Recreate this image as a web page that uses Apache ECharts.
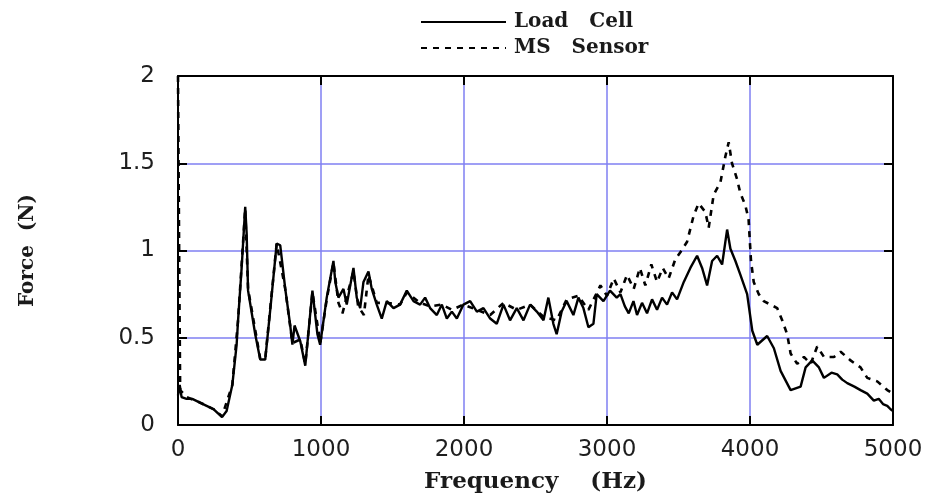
<!DOCTYPE html>
<html>
<head>
<meta charset="utf-8">
<script src="https://cdn.jsdelivr.net/npm/echarts@6/dist/echarts.min.js"></script>
<style>
  html, body { margin: 0; padding: 0; background: #fff; }
  #chart { width: 941px; height: 499px; }
</style>
</head>
<body>
<div id="chart"></div>
<script>
// Load Cell (solid) - frequency (Hz) and force (N)
const lcFreq = [0, 12, 25, 60, 100, 150, 200, 250, 308, 340, 380, 410, 420, 445, 470, 480, 490, 540, 575, 610, 650, 690, 715, 750, 785, 800, 815, 855, 890, 940, 975, 994,
  1040, 1087, 1100, 1122, 1157, 1180, 1227, 1250, 1274, 1297, 1332, 1355, 1390, 1425, 1460, 1507, 1553, 1600, 1647, 1693, 1728, 1763, 1810, 1845, 1880, 1915, 1950, 1996,
  2043, 2090, 2136, 2183, 2229, 2276, 2322, 2369, 2416, 2462, 2509, 2556, 2590, 2625, 2648, 2683, 2718, 2765, 2800, 2835, 2870, 2905, 2928, 2975, 3021,
  3068, 3094, 3125, 3152, 3185, 3210, 3245, 3280, 3315, 3350, 3385, 3420, 3455, 3490, 3537, 3583, 3630, 3665, 3700, 3735, 3770, 3805, 3840, 3863, 3898, 3933, 3980, 4016, 4051,
  4120, 4167, 4214, 4284, 4354, 4389, 4435, 4482, 4517, 4570, 4610, 4645, 4680, 4730, 4773, 4820, 4866, 4900, 4930, 4960, 4983, 5000];
const lcForce = [0.17, 0.23, 0.16, 0.15, 0.15, 0.13, 0.11, 0.09, 0.045, 0.08, 0.23, 0.46, 0.6, 0.9, 1.25, 1.1, 0.77, 0.52, 0.375, 0.375, 0.7, 1.04, 1.03, 0.78, 0.57, 0.46, 0.57, 0.48, 0.34, 0.77, 0.52, 0.46,
  0.73, 0.94, 0.82, 0.73, 0.78, 0.69, 0.9, 0.73, 0.67, 0.82, 0.88, 0.78, 0.69, 0.61, 0.71, 0.67, 0.69, 0.77, 0.71, 0.69, 0.73, 0.67, 0.63, 0.69, 0.61, 0.65, 0.61, 0.69,
  0.71, 0.65, 0.67, 0.61, 0.58, 0.69, 0.6, 0.67, 0.6, 0.69, 0.65, 0.6, 0.73, 0.58, 0.52, 0.65, 0.71, 0.63, 0.73, 0.67, 0.56, 0.58, 0.75, 0.71, 0.77,
  0.73, 0.75, 0.68, 0.64, 0.71, 0.63, 0.7, 0.64, 0.72, 0.66, 0.73, 0.69, 0.76, 0.72, 0.82, 0.9, 0.97, 0.9, 0.8, 0.94, 0.97, 0.92, 1.12, 1.01, 0.94, 0.86, 0.75, 0.54, 0.46,
  0.51, 0.44, 0.31, 0.2, 0.22, 0.33, 0.37, 0.33, 0.27, 0.3, 0.29, 0.26, 0.24, 0.22, 0.2, 0.18, 0.14, 0.15, 0.12, 0.11, 0.09, 0.08];

// MS Sensor (dashed)
const msFreq = [0, 8, 15, 60, 150, 250, 308, 380, 420, 470, 490, 575, 610, 690, 750, 800, 855, 890, 940, 995,
  1040, 1087, 1122, 1150, 1227, 1260, 1300, 1332, 1390, 1460, 1553, 1600, 1693, 1763, 1845, 1915, 1996, 2090, 2183, 2276, 2369, 2462, 2556, 2648, 2718, 2800, 2870, 2954,
  3000, 3047, 3094, 3140, 3187, 3230, 3268, 3310, 3350, 3390, 3431, 3478, 3513, 3560, 3606, 3641, 3688, 3711, 3746, 3793, 3828, 3851, 3874, 3909, 3932, 3967, 3990, 4007, 4026, 4061, 4096,
  4190, 4225, 4260, 4284, 4330, 4377, 4424, 4470, 4517, 4587, 4634, 4703, 4773, 4820, 4890, 4960, 5000];
const msForce = [2.0, 1.0, 0.2, 0.16, 0.13, 0.09, 0.05, 0.23, 0.6, 1.24, 0.78, 0.38, 0.38, 1.04, 0.78, 0.47, 0.49, 0.35, 0.76, 0.47,
  0.72, 0.93, 0.7, 0.64, 0.88, 0.68, 0.63, 0.86, 0.7, 0.7, 0.69, 0.76, 0.7, 0.68, 0.69, 0.66, 0.69, 0.66, 0.63, 0.7, 0.66, 0.69, 0.62, 0.6, 0.72, 0.74, 0.66, 0.8,
  0.74, 0.84, 0.76, 0.86, 0.78, 0.9, 0.8, 0.92, 0.82, 0.9, 0.84, 0.95, 0.99, 1.05, 1.2, 1.27, 1.22, 1.13, 1.32, 1.39, 1.54, 1.62, 1.5, 1.41, 1.33, 1.26, 1.18, 0.94, 0.82, 0.75, 0.71,
  0.67, 0.6, 0.52, 0.41, 0.35, 0.39, 0.35, 0.45, 0.39, 0.39, 0.42, 0.37, 0.33, 0.27, 0.25, 0.2, 0.18];

const xTicks = [0, 1000, 2000, 3000, 4000, 5000];
const yTicks = [0, 0.5, 1, 1.5, 2];

const serifBold = { fontFamily: 'DejaVu Serif', fontWeight: 'bold', fontSize: 21, color: '#1a1a1a' };
const tickFont = { fontFamily: 'DejaVu Sans', fontSize: 23, color: '#1e1e1e' };
const gridBlue = '#7f7ff2';

const chart = echarts.init(document.getElementById('chart'));

const zip = (xs, ys) => xs.map((x, i) => [x, ys[i]]);

const baseX = {
  type: 'value',
  min: xTicks[0],
  max: xTicks[xTicks.length - 1],
  interval: 1000,
  axisLine: { show: true, onZero: false, lineStyle: { color: '#000', width: 2 } },
  axisTick: { show: true, inside: true, length: 9, lineStyle: { color: '#000', width: 2 } }
};
const baseY = {
  type: 'value',
  min: yTicks[0],
  max: yTicks[yTicks.length - 1],
  interval: 0.5,
  axisLine: { show: true, onZero: false, lineStyle: { color: '#000', width: 2 } },
  axisTick: { show: true, inside: true, length: 9, lineStyle: { color: '#000', width: 2 } }
};

chart.setOption({
  animation: false,
  backgroundColor: '#fff',
  legend: {
    orient: 'vertical',
    left: 420,
    top: 12,
    padding: 0,
    itemWidth: 85,
    itemHeight: 14,
    itemGap: 6,
    itemStyle: { color: 'rgba(0,0,0,0)', borderWidth: 0, opacity: 0 },
    textStyle: Object.assign({}, serifBold, { fontSize: 20, lineHeight: 18, padding: [0, 0, 0, 3] }),
    data: ['Load   Cell', 'MS   Sensor']
  },
  grid: { left: 178, right: 48, top: 76, bottom: 71 },
  xAxis: [
    Object.assign({}, baseX, {
      position: 'bottom',
      name: 'Frequency    (Hz)',
      nameLocation: 'middle',
      nameGap: 46,
      nameTextStyle: Object.assign({}, serifBold, { fontSize: 23 }),
      axisLabel: Object.assign({ margin: 14, formatter: v => String(v) }, tickFont),
      splitLine: { show: true, lineStyle: { color: gridBlue, width: 1.5 } }
    }),
    Object.assign({}, baseX, {
      position: 'top',
      axisLabel: { show: false },
      splitLine: { show: false }
    })
  ],
  yAxis: [
    Object.assign({}, baseY, {
      position: 'left',
      name: 'Force  (N)',
      nameLocation: 'middle',
      nameGap: 140,
      nameTextStyle: Object.assign({}, serifBold, { fontSize: 20 }),
      axisLabel: Object.assign({ margin: 23 }, tickFont),
      splitLine: { show: true, lineStyle: { color: gridBlue, width: 1.5 } }
    }),
    Object.assign({}, baseY, {
      position: 'right',
      axisLabel: { show: false },
      splitLine: { show: false }
    })
  ],
  series: [
    {
      name: 'Load   Cell',
      type: 'line',
      showSymbol: false,
      symbol: 'none',
      data: zip(lcFreq, lcForce),
      lineStyle: { color: '#000', width: 2.4 },
      itemStyle: { color: '#000' },
      z: 3
    },
    {
      name: 'MS   Sensor',
      type: 'line',
      showSymbol: false,
      symbol: 'none',
      data: zip(msFreq, msForce),
      lineStyle: { color: '#000', width: 2.6, type: [6, 6] },
      itemStyle: { color: '#000' },
      z: 2
    }
  ]
});
</script>
</body>
</html>
